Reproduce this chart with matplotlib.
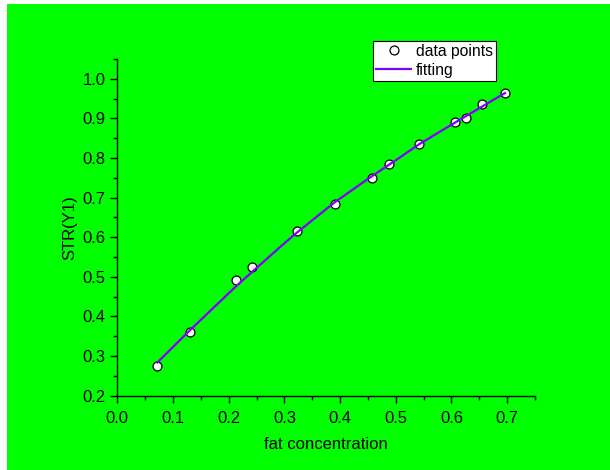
import numpy as np
import matplotlib
matplotlib.use("Agg")
import matplotlib.pyplot as plt
from matplotlib.ticker import MultipleLocator

# measured points
fat = [0.072, 0.131, 0.214, 0.241, 0.322, 0.390, 0.458, 0.488, 0.541, 0.607, 0.626, 0.654, 0.696]
strength = [0.276, 0.360, 0.491, 0.525, 0.616, 0.685, 0.749, 0.785, 0.835, 0.890, 0.900, 0.936, 0.965]

# fitted curve
fit_x = [0.072, 0.131, 0.2145, 0.292, 0.321, 0.390, 0.457, 0.508, 0.541, 0.607, 0.696]
fit_y = [0.284, 0.366, 0.478, 0.575, 0.610, 0.688, 0.754, 0.802, 0.834, 0.890, 0.964]

xticks = [0.0, 0.1, 0.2, 0.3, 0.4, 0.5, 0.6, 0.7]
yticks = [0.2, 0.3, 0.4, 0.5, 0.6, 0.7, 0.8, 0.9, 1.0]

plt.rcParams['font.family'] = ['Liberation Sans', 'DejaVu Sans']

fig = plt.figure(figsize=(6.1, 4.7), dpi=100)
fig.patch.set_facecolor('white')
# green panel, white strip on the left/top
bg = fig.add_axes([7/610, 0, 1 - 7/610, 1 - 4/470])
bg.set_facecolor('#00ff00')
bg.set_xticks([])
bg.set_yticks([])
for s in bg.spines.values():
    s.set_visible(False)

ax = fig.add_axes([117.3/610, 1 - 395.7/470, (535 - 117.3)/610, (395.7 - 59)/470])
ax.set_facecolor('none')

ax.plot(fat, strength, 'o', ms=6.4, mfc='white', mec='black', mew=0.9,
        label='data points', zorder=2)
ax.plot(fit_x, fit_y, '-', color='#8000ff', lw=1.6, label='fitting', zorder=3)

ax.set_xlim(0, 0.75)
ax.set_ylim(0.2, 1.05)
ax.set_xticks(xticks)
ax.set_yticks(yticks)
ax.set_xticklabels(['%.1f' % v for v in xticks])
ax.set_yticklabels(['%.1f' % v for v in yticks])
ax.xaxis.set_minor_locator(MultipleLocator(0.05))
ax.yaxis.set_minor_locator(MultipleLocator(0.05))
ax.tick_params(which='major', direction='out', length=5, width=1, labelsize=12, pad=3.5)
ax.tick_params(axis='x', which='major', pad=6)
ax.tick_params(which='minor', direction='out', length=3, width=1)

ax.spines['top'].set_visible(False)
ax.spines['right'].set_visible(False)
ax.spines['left'].set_linewidth(1)
ax.spines['bottom'].set_linewidth(1)

ax.set_xlabel('fat concentration', fontsize=12, labelpad=8)
ax.set_ylabel('STR(Y1)', fontsize=12, labelpad=4)

leg = ax.legend(loc='upper left', bbox_to_anchor=(0.613, 1.054), borderaxespad=0,
                fontsize=11.3, frameon=True, fancybox=False, framealpha=1,
                edgecolor='black', borderpad=0.2, handlelength=2.17,
                handletextpad=0.32, labelspacing=0.23)
leg.get_frame().set_linewidth(0.8)

fig.savefig('out.png', dpi=100)
